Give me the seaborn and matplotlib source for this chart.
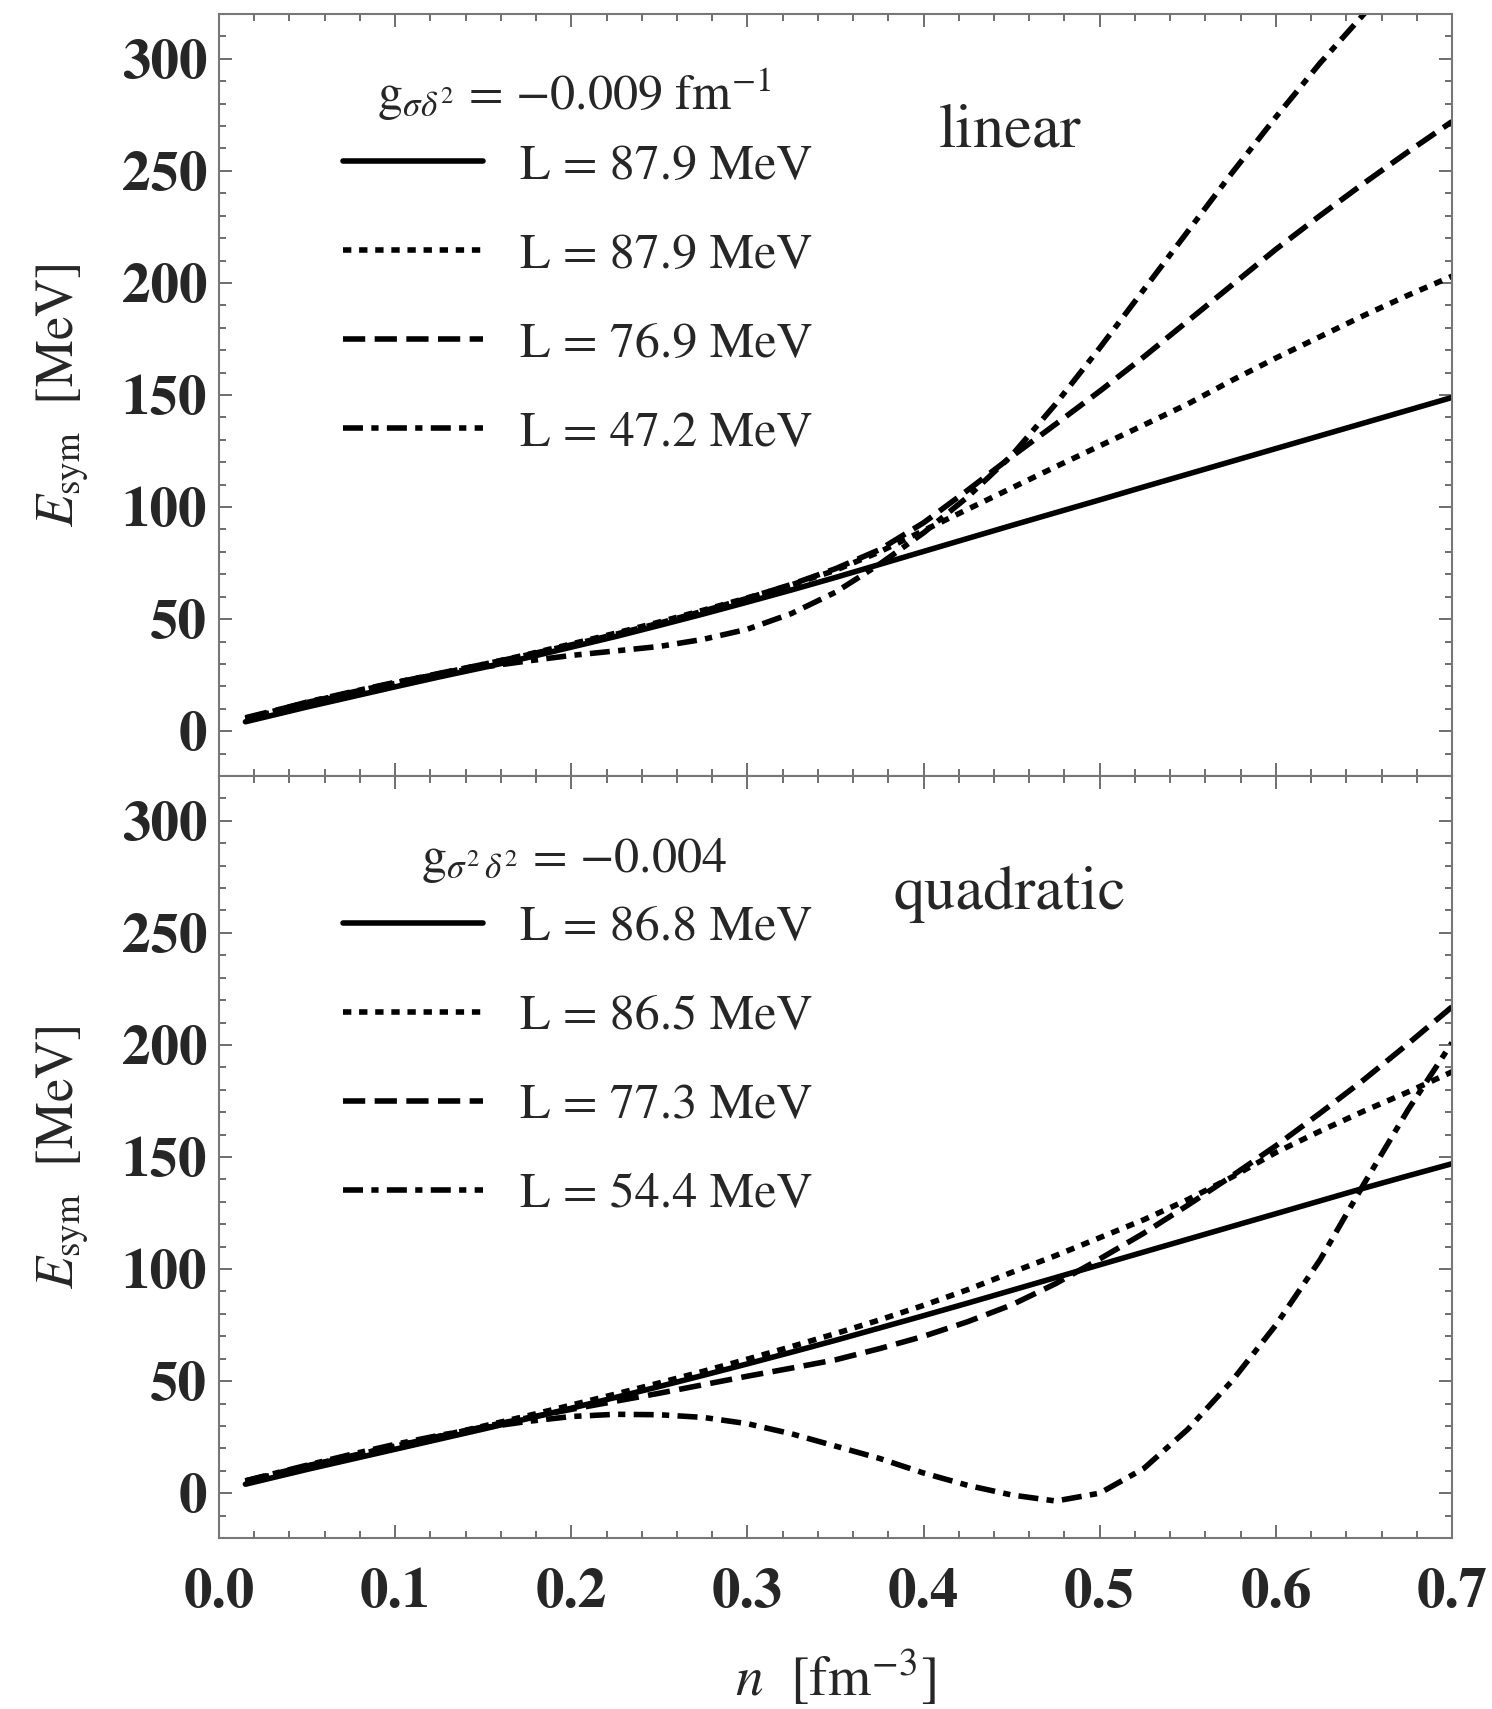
import matplotlib
matplotlib.use("Agg")
import matplotlib.pyplot as plt
import numpy as np
import pandas as pd
import seaborn as sns
from matplotlib.ticker import MultipleLocator

# ---------------- data ----------------
n_grid = [0.015, 0.05, 0.075, 0.1, 0.125, 0.15, 0.175, 0.2, 0.225, 0.25, 0.275,
          0.3, 0.325, 0.35, 0.375, 0.4, 0.425, 0.45, 0.475, 0.5, 0.525, 0.55,
          0.575, 0.6, 0.625, 0.65, 0.675, 0.7]

# top panel: linear g_{sigma delta^2}
lin_solid = [4.2, 10.8, 15.3, 19.8, 24.2, 28.4, 32.8, 37.5, 42.2, 47.2, 52.3,
             57.6, 63.0, 68.6, 74.4, 80.2, 86.0, 91.8, 97.5, 103.2, 109.0, 114.7,
             120.4, 126.1, 131.8, 137.5, 143.2, 148.9]
lin_dotted = [5.5, 12.3, 16.9, 21.3, 25.6, 29.8, 34.2, 38.9, 43.7, 48.7, 54.0,
              59.5, 65.3, 71.8, 80.0, 89.5, 99.0, 108.5, 118.0, 127.3, 136.6, 146.0,
              156.5, 166.5, 176.0, 185.5, 194.5, 203.0]
lin_dashed = [6.0, 12.8, 17.3, 21.6, 25.8, 29.8, 34.0, 38.5, 43.2, 48.2, 53.6,
              59.3, 65.5, 72.5, 81.0, 93.0, 107.5, 122.5, 137.0, 151.7, 167.0, 183.0,
              199.0, 215.0, 230.0, 244.5, 258.5, 272.0]
lin_dashdot = [5.5, 13.0, 17.5, 21.8, 25.5, 28.6, 31.3, 33.8, 35.8, 37.8, 41.0,
               45.5, 52.5, 62.0, 74.5, 88.5, 104.5, 123.0, 146.0, 171.0, 197.0, 223.0,
               249.0, 274.0, 298.0, 320.0, 342.0, 364.0]
lin_labels = ["L = 87.9 MeV", "L = 87.9 MeV", "L = 76.9 MeV", "L = 47.2 MeV"]
lin_title = "g$_{\\sigma\\delta^{2}}$ = \u22120.009 fm$^{-1}$"

# bottom panel: quadratic g_{sigma^2 delta^2}
quad_solid = [4.0, 10.6, 15.1, 19.6, 24.1, 28.6, 33.2, 37.9, 42.7, 47.6, 52.6,
              57.7, 62.9, 68.2, 73.7, 79.2, 84.8, 90.5, 96.2, 101.9, 107.6, 113.3,
              119.0, 124.7, 130.4, 136.1, 141.6, 147.0]
quad_dotted = [5.2, 12.0, 16.5, 21.0, 25.4, 29.9, 34.5, 39.3, 44.2, 49.2, 54.4,
               59.8, 65.4, 71.2, 77.3, 83.8, 90.8, 98.5, 106.0, 114.0, 122.0, 131.0,
               141.0, 152.0, 161.5, 170.5, 179.0, 188.0]
quad_dashed = [5.5, 12.2, 16.6, 21.0, 25.3, 29.6, 33.6, 37.4, 41.0, 44.6, 48.4,
               52.2, 55.8, 59.5, 64.5, 70.0, 76.5, 84.0, 93.5, 104.5, 116.0, 128.5,
               141.5, 155.0, 169.5, 184.5, 200.5, 217.0]
quad_dashdot = [5.5, 12.5, 17.3, 21.8, 25.8, 29.2, 32.0, 34.2, 35.2, 35.0, 33.8,
                31.0, 26.5, 21.0, 15.5, 9.0, 3.5, -0.8, -3.5, 0.0, 11.0, 28.5,
                50.0, 75.0, 104.0, 138.0, 171.0, 201.0]
quad_labels = ["L = 86.8 MeV", "L = 86.5 MeV", "L = 77.3 MeV", "L = 54.4 MeV"]
quad_title = "g$_{\\sigma^{2}\\,\\delta^{2}}$ = \u22120.004"

x_ticks = [0.0, 0.1, 0.2, 0.3, 0.4, 0.5, 0.6, 0.7]
x_ticklabels = ["0.0", "0.1", "0.2", "0.3", "0.4", "0.5", "0.6", "0.7"]
y_ticks = [0, 50, 100, 150, 200, 250, 300]
y_ticklabels = ["0", "50", "100", "150", "200", "250", "300"]

# ---------------- style ----------------
sns.set_theme(style="ticks")
plt.rcParams["font.family"] = ["STIXGeneral", "DejaVu Serif"]
plt.rcParams["mathtext.fontset"] = "stix"
plt.rcParams["axes.edgecolor"] = "#777777"
plt.rcParams["axes.linewidth"] = 1.5

LW = 4.0
styles = ["-", (0, (1.5, 1.4)), (0, (4.0, 1.7)), (0, (3.6, 1.5, 1.3, 1.5))]

fig = plt.figure(figsize=(14.92, 17.09), dpi=100)
ax1 = fig.add_axes([0.14678, 0.54593, 0.82641, 0.44588])
ax2 = fig.add_axes([0.14678, 0.10006, 0.82641, 0.44588])


def draw_panel(ax, series, labels, title, tag):
    frames = []
    for i, vals in enumerate(series):
        frames.append(pd.DataFrame({"n": n_grid, "E": vals, "curve": i}))
    df = pd.concat(frames, ignore_index=True)
    for i, lab in enumerate(labels):
        sub = df[df["curve"] == i]
        sns.lineplot(data=sub, x="n", y="E", ax=ax, color="black", lw=LW,
                     linestyle=styles[i], label=lab, errorbar=None, sort=False)
    ax.set_xlim(0, 0.7)
    ax.set_ylim(-20, 320)
    ax.set_yticks(y_ticks, y_ticklabels, fontsize=41, fontweight="bold")
    ax.set_xticks(x_ticks, x_ticklabels, fontsize=41, fontweight="bold")
    ax.xaxis.set_minor_locator(MultipleLocator(0.02))
    ax.yaxis.set_minor_locator(MultipleLocator(10))
    ax.tick_params(which="both", direction="in", top=True, right=True,
                   color="#555555", width=1.2)
    ax.tick_params(which="major", length=9.5)
    ax.tick_params(which="minor", length=5)
    ax.tick_params(axis="x", pad=22)
    ax.tick_params(axis="y", pad=8.5)
    for s in ax.spines.values():
        s.set_color("#777777")
        s.set_linewidth(1.5)
    ax.set_ylabel(r"$E_{\mathrm{sym}}$  [MeV]", fontsize=38)
    ax.yaxis.set_label_coords(-0.1046, 0.5)
    handles = ax.get_lines()[:4]
    ax.legend(handles, labels, loc="upper left",
              bbox_to_anchor=(0.1003, 0.8301), frameon=False, fontsize=36,
              handlelength=2.8, handletextpad=0.74,
              labelspacing=0.86, borderpad=0, borderaxespad=0)
    ax.text(0.2879, 0.8740, title, transform=ax.transAxes, ha="center",
            va="baseline", fontsize=36)
    ax.text(0.6415, 0.8259, tag, transform=ax.transAxes, ha="center",
            va="baseline", fontsize=45)


draw_panel(ax1, [lin_solid, lin_dotted, lin_dashed, lin_dashdot], lin_labels,
           lin_title, "linear")
draw_panel(ax2, [quad_solid, quad_dotted, quad_dashed, quad_dashdot], quad_labels,
           quad_title, "quadratic")

ax1.tick_params(labelbottom=False)
ax1.set_xlabel("")
ax2.set_xlabel(r"$n$  [fm$^{-3}$]", fontsize=40)
ax2.xaxis.set_label_coords(0.5, -0.144)

fig.savefig("out.png", dpi=100)
